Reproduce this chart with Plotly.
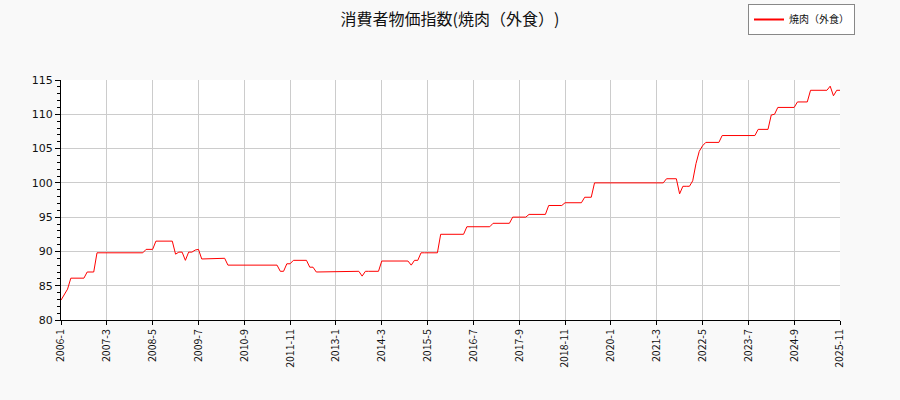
import plotly.graph_objects as go

# monthly index values, one list per year (Jan..Dec)
v2006 = [82.9, 83.8, 84.5, 86.1, 86.1, 86.1, 86.1, 86.1, 87.0, 87.0, 87.0, 89.8]
v2007 = [89.8, 89.8, 89.8, 89.8, 89.8, 89.8, 89.8, 89.8, 89.8, 89.8, 89.8, 89.8]
v2008 = [89.8, 89.8, 90.3, 90.3, 90.3, 91.5, 91.5, 91.5, 91.5, 91.5, 91.5, 89.6]
v2009 = [89.9, 89.9, 88.7, 89.9, 89.9, 90.2, 90.3, 88.9, 88.9, 88.9, 88.9, 89.0]
v2010 = [89.0, 89.0, 89.0, 88.0, 88.0, 88.0, 88.0, 88.0, 88.0, 88.0, 88.0, 88.0]
v2011 = [88.0, 88.0, 88.0, 88.0, 88.0, 88.0, 88.0, 87.1, 87.1, 88.2, 88.2, 88.7]
v2012 = [88.7, 88.7, 88.7, 88.7, 87.7, 87.7, 87.0, 87.0, 87.0, 87.1, 87.1, 87.1]
v2013 = [87.1, 87.1, 87.1, 87.1, 87.1, 87.1, 87.1, 87.1, 86.4, 87.1, 87.1, 87.1]
v2014 = [87.1, 87.1, 88.6, 88.6, 88.6, 88.6, 88.6, 88.6, 88.6, 88.6, 88.6, 88.0]
v2015 = [88.7, 88.7, 89.8, 89.8, 89.8, 89.8, 89.8, 89.8, 92.5, 92.5, 92.5, 92.5]
v2016 = [92.5, 92.5, 92.5, 92.5, 93.6, 93.6, 93.6, 93.6, 93.6, 93.6, 93.6, 93.6]
v2017 = [94.1, 94.1, 94.1, 94.1, 94.1, 94.1, 95.0, 95.0, 95.0, 95.0, 95.0, 95.4]
v2018 = [95.4, 95.4, 95.4, 95.4, 95.4, 96.7, 96.7, 96.7, 96.7, 96.7, 97.1, 97.1]
v2019 = [97.1, 97.1, 97.1, 97.1, 97.9, 97.9, 97.9, 100.0, 100.0, 100.0, 100.0, 100.0]
v2020 = [100.0, 100.0, 100.0, 100.0, 100.0, 100.0, 100.0, 100.0, 100.0, 100.0, 100.0, 100.0]
v2021 = [100.0, 100.0, 100.0, 100.0, 100.0, 100.6, 100.6, 100.6, 100.6, 98.4, 99.5, 99.5]
v2022 = [99.5, 100.3, 102.8, 104.6, 105.4, 105.9, 105.9, 105.9, 105.9, 105.9, 106.9, 106.9]
v2023 = [106.9, 106.9, 106.9, 106.9, 106.9, 106.9, 106.9, 106.9, 106.9, 107.8, 107.8, 107.8]
v2024 = [107.8, 109.9, 110.0, 111.0, 111.0, 111.0, 111.0, 111.0, 111.0, 111.8, 111.8, 111.8]
v2025 = [111.8, 113.5, 113.5, 113.5, 113.5, 113.5, 113.5, 114.1, 112.7, 113.5, 113.5]

yearly = [v2006, v2007, v2008, v2009, v2010, v2011, v2012, v2013, v2014, v2015,
          v2016, v2017, v2018, v2019, v2020, v2021, v2022, v2023, v2024, v2025]

labels = []
values = []
for i, vals in enumerate(yearly):
    for m, v in enumerate(vals):
        labels.append(f"{2006 + i}-{m + 1}")
        values.append(v)

tick_labels = labels[::14]
series_name = "焼肉（外食）"

fig = go.Figure()
fig.add_trace(go.Scatter(x=labels, y=values, mode="lines", name=series_name,
                         line=dict(color="red", width=1), showlegend=False))
# legend entry only, drawn a bit thicker like the original key
fig.add_trace(go.Scatter(x=[None], y=[None], mode="lines", name=series_name,
                         line=dict(color="red", width=2)))

fig.update_layout(
    width=900, height=400,
    margin=dict(l=61, r=60, t=80, b=80, autoexpand=False),
    paper_bgcolor="#f9f9f9",
    plot_bgcolor="white",
    title=dict(text="消費者物価指数(焼肉（外食）)", x=0.5, xanchor="center",
               y=1 - 19 / 400, yanchor="middle",
               font=dict(family="Noto Sans CJK JP", size=16, color="#111")),
    showlegend=True,
    legend=dict(x=(855 - 61) / 779, xanchor="right", y=(320 - 4) / 240, yanchor="top",
                bgcolor="white", bordercolor="#888", borderwidth=1,
                itemwidth=30, tracegroupgap=0,
                font=dict(family="Noto Sans CJK JP", size=10, color="#111")),
)

fig.update_xaxes(type="category", range=[0, len(labels) - 1],
                 tickmode="array", tickvals=tick_labels, ticktext=tick_labels,
                 tickangle=-90, ticks="outside", ticklen=4, tickcolor="black",
                 showgrid=True, gridcolor="#cccccc", gridwidth=1,
                 showline=True, linecolor="black", linewidth=1,
                 tickfont=dict(family="Noto Sans CJK JP", size=10.5, color="#111"))

fig.update_yaxes(range=[80, 115], dtick=5, ticks="outside", ticklen=5, tickcolor="black",
                 minor=dict(dtick=1, ticks="outside", ticklen=3, tickcolor="black", showgrid=False),
                 showgrid=True, gridcolor="#cccccc", gridwidth=1,
                 showline=True, linecolor="black", linewidth=1, zeroline=False,
                 tickfont=dict(family="DejaVu Sans", size=11, color="#111"))

# drop the default page margin so the figure sits at the window origin
fig.write_html("out.html", config={"displayModeBar": False},
               post_script="document.body.style.margin='0';"
               "document.body.style.textSpacingTrim='space-all';")
